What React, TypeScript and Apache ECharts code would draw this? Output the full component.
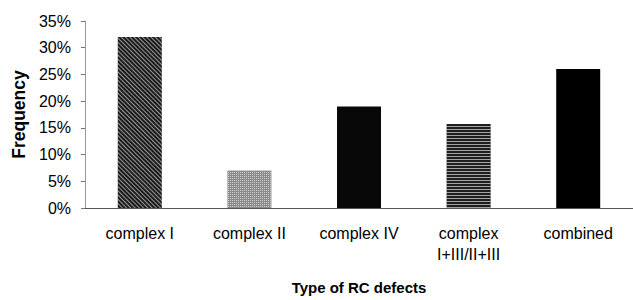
import React, { useEffect, useRef } from "react";
import * as echarts from "echarts";

const categories = ["complex I", "complex II", "complex IV", "complex\nI+III/II+III", "combined"];
const frequency = [32, 7, 19, 15.7, 26];
const yTicks = { min: 0, max: 35, interval: 5 };

export default function App() {
  const ref = useRef<HTMLDivElement>(null);
  useEffect(() => {
    if (!ref.current) return;
    const chart = echarts.init(ref.current, undefined, { renderer: "svg" });
    const styles = [
      {
        color: "#1a1a1a",
        decal: {
          symbol: "rect",
          symbolSize: 1,
          color: "rgba(255,255,255,0.55)",
          dashArrayX: [1, 0],
          dashArrayY: [1, 2],
          rotation: Math.PI / 4,
        },
      },
      {
        color: "#8a8a8a",
        decal: {
          symbol: "rect",
          symbolSize: 1,
          color: "rgba(255,255,255,0.6)",
          dashArrayX: [1, 1],
          dashArrayY: [1, 1],
          rotation: 0,
        },
      },
      { color: "#080808" },
      {
        color: "#1e1e1e",
        decal: {
          symbol: "rect",
          symbolSize: 1,
          color: "rgba(255,255,255,0.6)",
          dashArrayX: [1, 0],
          dashArrayY: [1, 2],
          rotation: 0,
        },
      },
      { color: "#000000" },
    ];
    chart.setOption({
      animation: false,
      backgroundColor: "#ffffff",
      textStyle: { fontFamily: "Liberation Sans, Arial, sans-serif" },
      grid: { left: 85, top: 21, width: 550, bottom: 90, containLabel: false },
      xAxis: {
        type: "category",
        data: categories,
        name: "Type of RC defects",
        nameLocation: "middle",
        nameGap: 72,
        nameTextStyle: { fontSize: 15, fontWeight: "bold", color: "#000" },
        axisLine: { lineStyle: { color: "#555", width: 1 } },
        axisTick: { show: false },
        axisLabel: { fontSize: 16, color: "#000", margin: 15, lineHeight: 21, interval: 0 },
      },
      yAxis: {
        type: "value",
        min: yTicks.min,
        max: yTicks.max,
        interval: yTicks.interval,
        name: "Frequency",
        nameLocation: "middle",
        nameRotate: 90,
        nameGap: 55,
        nameTextStyle: { fontSize: 17.5, fontWeight: "bold", color: "#000" },
        axisLine: { show: true, lineStyle: { color: "#999", width: 1 } },
        axisTick: { show: true, inside: false, length: 4, lineStyle: { color: "#777" } },
        splitLine: { show: false },
        axisLabel: { fontSize: 16, color: "#000", margin: 14, formatter: "{value}%" },
      },
      series: [
        {
          type: "bar",
          barWidth: 44,
          data: frequency.map((v, i) => ({ value: v, itemStyle: styles[i] })),
        },
      ],
    });
    return () => chart.dispose();
  }, []);
  return (
    <div
      ref={ref}
      style={{ position: "fixed", left: 0, top: 0, width: 633, height: 300, background: "#fff" }}
    />
  );
}
